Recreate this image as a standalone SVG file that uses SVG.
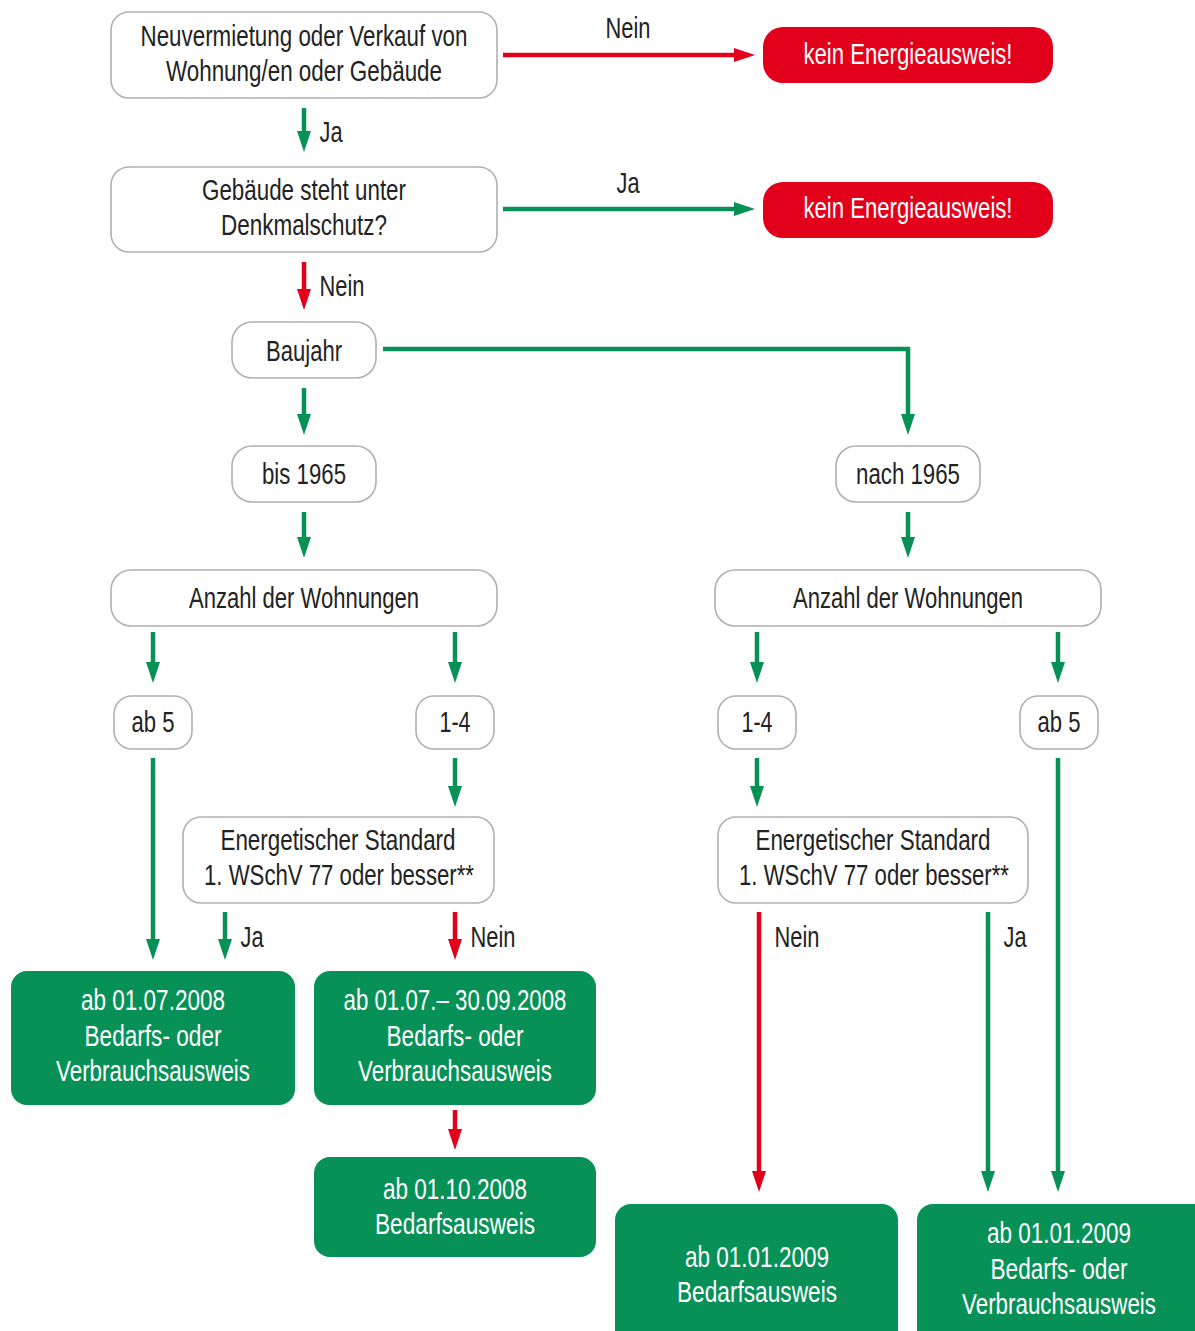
<svg xmlns="http://www.w3.org/2000/svg" width="1195" height="1331" viewBox="0 0 1195 1331">
<style>
text{font-family:"Liberation Sans Narrow","Liberation Sans",Arial,sans-serif;font-size:29px;text-anchor:middle;lengthAdjust:spacingAndGlyphs}
.dark{fill:#222}
.white{fill:#fff}
.node{fill:#fff;stroke:#b0b0b0;stroke-width:1.6}
.red{fill:#e2001a}
.green{fill:#079157}
.cg{fill:none;stroke:#079157;stroke-width:4.5}
.cr{fill:none;stroke:#e2001a;stroke-width:4.5}
</style>
<defs>
<marker id="ag" markerUnits="userSpaceOnUse" markerWidth="24" markerHeight="16" refX="1" refY="8" orient="auto"><path d="M0,1 L21,8 L0,15 z" fill="#079157"/></marker>
<marker id="ar" markerUnits="userSpaceOnUse" markerWidth="24" markerHeight="16" refX="1" refY="8" orient="auto"><path d="M0,1 L21,8 L0,15 z" fill="#e2001a"/></marker>
</defs>
<rect width="1195" height="1331" fill="#fff"/>

<g id="connectors">
<path class="cr" d="M503,55 H735" marker-end="url(#ar)"/>
<path class="cg" d="M304,108 V132" marker-end="url(#ag)"/>
<path class="cg" d="M503,209 H735" marker-end="url(#ag)"/>
<path class="cr" d="M304,262 V290" marker-end="url(#ar)"/>
<path class="cg" d="M383,349 H908 V415" marker-end="url(#ag)"/>
<path class="cg" d="M304,388 V415" marker-end="url(#ag)"/>
<path class="cg" d="M304,512 V538" marker-end="url(#ag)"/>
<path class="cg" d="M908,512 V538" marker-end="url(#ag)"/>
<path class="cg" d="M153,632 V663" marker-end="url(#ag)"/>
<path class="cg" d="M455,632 V663" marker-end="url(#ag)"/>
<path class="cg" d="M757,632 V663" marker-end="url(#ag)"/>
<path class="cg" d="M1058,632 V663" marker-end="url(#ag)"/>
<path class="cg" d="M153,758 V940" marker-end="url(#ag)"/>
<path class="cg" d="M455,758 V787" marker-end="url(#ag)"/>
<path class="cg" d="M757,758 V787" marker-end="url(#ag)"/>
<path class="cg" d="M1058,758 V1172" marker-end="url(#ag)"/>
<path class="cg" d="M225,912 V940" marker-end="url(#ag)"/>
<path class="cr" d="M455,912 V940" marker-end="url(#ar)"/>
<path class="cr" d="M759,912 V1172" marker-end="url(#ar)"/>
<path class="cg" d="M988,912 V1172" marker-end="url(#ag)"/>
<path class="cr" d="M455,1110 V1130" marker-end="url(#ar)"/>
<text class="dark" x="628" y="38" textLength="45" lengthAdjust="spacingAndGlyphs">Nein</text>
<text class="dark" x="331" y="142" textLength="23" lengthAdjust="spacingAndGlyphs">Ja</text>
<text class="dark" x="628" y="193" textLength="23" lengthAdjust="spacingAndGlyphs">Ja</text>
<text class="dark" x="342" y="296" textLength="45" lengthAdjust="spacingAndGlyphs">Nein</text>
<text class="dark" x="252" y="947" textLength="23" lengthAdjust="spacingAndGlyphs">Ja</text>
<text class="dark" x="493" y="947" textLength="45" lengthAdjust="spacingAndGlyphs">Nein</text>
<text class="dark" x="797" y="947" textLength="45" lengthAdjust="spacingAndGlyphs">Nein</text>
<text class="dark" x="1015" y="947" textLength="23" lengthAdjust="spacingAndGlyphs">Ja</text>
</g>

<g id="n-start">
<rect class="node" x="111" y="12" width="386" height="86" rx="18"/>
<text class="dark" x="304" y="46" textLength="327" lengthAdjust="spacingAndGlyphs">Neuvermietung oder Verkauf von</text>
<text class="dark" x="304" y="81" textLength="276" lengthAdjust="spacingAndGlyphs">Wohnung/en oder Gebäude</text>
</g>
<g id="n-kein1">
<rect class="red" x="763" y="27" width="290" height="56" rx="20"/>
<text class="white" x="908" y="64" font-size="27" textLength="209" lengthAdjust="spacingAndGlyphs">kein Energieausweis!</text>
</g>
<g id="n-denkmal">
<rect class="node" x="111" y="167" width="386" height="85" rx="18"/>
<text class="dark" x="304" y="200" textLength="204" lengthAdjust="spacingAndGlyphs">Gebäude steht unter</text>
<text class="dark" x="304" y="235" textLength="166" lengthAdjust="spacingAndGlyphs">Denkmalschutz?</text>
</g>
<g id="n-kein2">
<rect class="red" x="763" y="182" width="290" height="56" rx="20"/>
<text class="white" x="908" y="218" font-size="27" textLength="209" lengthAdjust="spacingAndGlyphs">kein Energieausweis!</text>
</g>
<g id="n-baujahr">
<rect class="node" x="232" y="322" width="144" height="56" rx="20"/>
<text class="dark" x="304" y="361" textLength="76" lengthAdjust="spacingAndGlyphs">Baujahr</text>
</g>
<g id="n-bis1965">
<rect class="node" x="232" y="446" width="144" height="56" rx="20"/>
<text class="dark" x="304" y="484" textLength="84" lengthAdjust="spacingAndGlyphs">bis 1965</text>
</g>
<g id="n-nach1965">
<rect class="node" x="836" y="446" width="144" height="56" rx="20"/>
<text class="dark" x="908" y="484" textLength="104" lengthAdjust="spacingAndGlyphs">nach 1965</text>
</g>
<g id="n-anzahl-l">
<rect class="node" x="111" y="570" width="386" height="56" rx="20"/>
<text class="dark" x="304" y="608" textLength="230" lengthAdjust="spacingAndGlyphs">Anzahl der Wohnungen</text>
</g>
<g id="n-anzahl-r">
<rect class="node" x="715" y="570" width="386" height="56" rx="20"/>
<text class="dark" x="908" y="608" textLength="230" lengthAdjust="spacingAndGlyphs">Anzahl der Wohnungen</text>
</g>
<g id="n-ab5-l">
<rect class="node" x="114" y="696" width="78" height="53" rx="18"/>
<text class="dark" x="153" y="732" textLength="43" lengthAdjust="spacingAndGlyphs">ab 5</text>
</g>
<g id="n-14-l">
<rect class="node" x="416" y="696" width="78" height="53" rx="18"/>
<text class="dark" x="455" y="732" textLength="31" lengthAdjust="spacingAndGlyphs">1-4</text>
</g>
<g id="n-14-r">
<rect class="node" x="718" y="696" width="78" height="53" rx="18"/>
<text class="dark" x="757" y="732" textLength="31" lengthAdjust="spacingAndGlyphs">1-4</text>
</g>
<g id="n-ab5-r">
<rect class="node" x="1020" y="696" width="78" height="53" rx="18"/>
<text class="dark" x="1059" y="732" textLength="43" lengthAdjust="spacingAndGlyphs">ab 5</text>
</g>
<g id="n-std-l">
<rect class="node" x="183" y="817" width="311" height="86" rx="18"/>
<text class="dark" x="338" y="850" textLength="235" lengthAdjust="spacingAndGlyphs">Energetischer Standard</text>
<text class="dark" x="339" y="885" textLength="270" lengthAdjust="spacingAndGlyphs">1. WSchV 77 oder besser**</text>
</g>
<g id="n-std-r">
<rect class="node" x="718" y="817" width="310" height="86" rx="18"/>
<text class="dark" x="873" y="850" textLength="235" lengthAdjust="spacingAndGlyphs">Energetischer Standard</text>
<text class="dark" x="874" y="885" textLength="270" lengthAdjust="spacingAndGlyphs">1. WSchV 77 oder besser**</text>
</g>
<g id="n-r-a">
<rect class="green" x="11" y="971" width="284" height="134" rx="16"/>
<text class="white" x="153" y="1010" textLength="144" lengthAdjust="spacingAndGlyphs">ab 01.07.2008</text>
<text class="white" x="153" y="1046" textLength="137" lengthAdjust="spacingAndGlyphs">Bedarfs- oder</text>
<text class="white" x="153" y="1081" textLength="194" lengthAdjust="spacingAndGlyphs">Verbrauchsausweis</text>
</g>
<g id="n-r-b">
<rect class="green" x="314" y="971" width="282" height="134" rx="16"/>
<text class="white" x="455" y="1010" textLength="223" lengthAdjust="spacingAndGlyphs">ab 01.07.– 30.09.2008</text>
<text class="white" x="455" y="1046" textLength="137" lengthAdjust="spacingAndGlyphs">Bedarfs- oder</text>
<text class="white" x="455" y="1081" textLength="194" lengthAdjust="spacingAndGlyphs">Verbrauchsausweis</text>
</g>
<g id="n-r-c">
<rect class="green" x="314" y="1157" width="282" height="100" rx="16"/>
<text class="white" x="455" y="1199" textLength="144" lengthAdjust="spacingAndGlyphs">ab 01.10.2008</text>
<text class="white" x="455" y="1234" textLength="160" lengthAdjust="spacingAndGlyphs">Bedarfsausweis</text>
</g>
<g id="n-r-d">
<rect class="green" x="615" y="1204" width="283" height="150" rx="16"/>
<text class="white" x="757" y="1267" textLength="144" lengthAdjust="spacingAndGlyphs">ab 01.01.2009</text>
<text class="white" x="757" y="1302" textLength="160" lengthAdjust="spacingAndGlyphs">Bedarfsausweis</text>
</g>
<g id="n-r-e">
<rect class="green" x="917" y="1204" width="300" height="150" rx="16"/>
<text class="white" x="1059" y="1243" textLength="144" lengthAdjust="spacingAndGlyphs">ab 01.01.2009</text>
<text class="white" x="1059" y="1279" textLength="137" lengthAdjust="spacingAndGlyphs">Bedarfs- oder</text>
<text class="white" x="1059" y="1314" textLength="194" lengthAdjust="spacingAndGlyphs">Verbrauchsausweis</text>
</g>
</svg>
